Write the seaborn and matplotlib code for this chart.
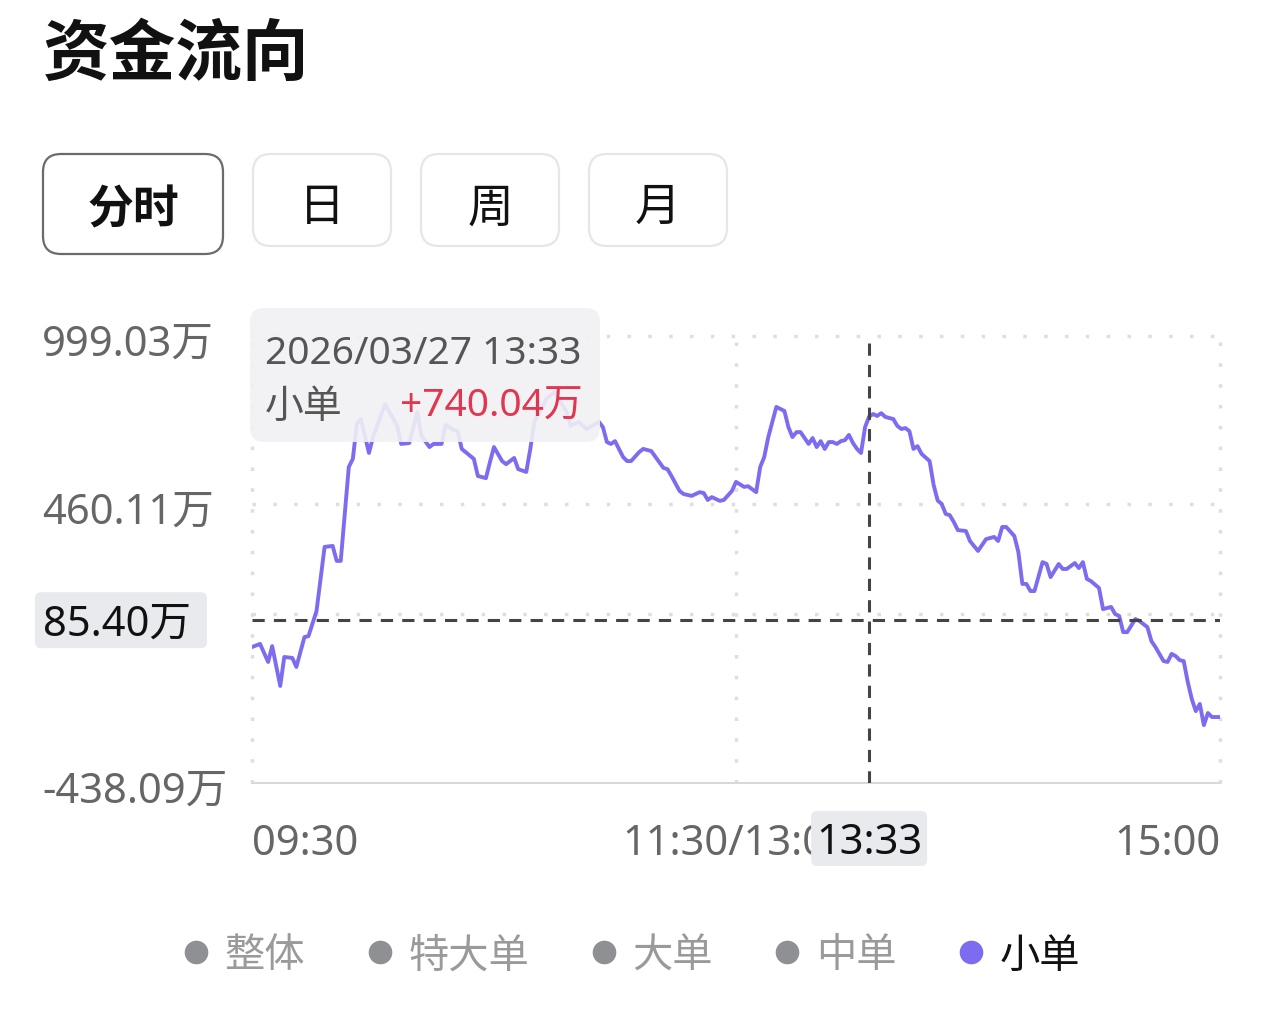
import numpy as np
import matplotlib.pyplot as plt
import pandas as pd
import seaborn as sns
from matplotlib.patches import FancyBboxPatch
from matplotlib.lines import Line2D
from matplotlib.transforms import ScaledTranslation

# 小单 intraday money flow, values in 万
times = [
    "09:30", "09:32", "09:34", "09:35", "09:37", "09:38", "09:40", "09:41", "09:43", "09:44",
    "09:46", "09:48", "09:50", "09:51", "09:52", "09:54", "09:55", "09:56", "09:57", "09:59",
    "10:00", "10:03", "10:06", "10:07", "10:09", "10:11", "10:12", "10:14", "10:15", "10:17",
    "10:18", "10:20", "10:21", "10:22", "10:25", "10:26", "10:28", "10:29", "10:30", "10:32",
    "10:33", "10:35", "10:36", "10:38", "10:39", "10:40", "10:43", "10:45", "10:48", "10:49",
    "10:51", "10:53", "10:56", "10:57", "10:58", "10:59", "11:00", "11:02", "11:03", "11:04",
    "11:06", "11:07", "11:09", "11:12", "11:13", "11:14", "11:16", "11:17", "11:19", "11:21",
    "11:22", "11:23", "11:24", "11:26", "11:27", "11:29", "11:30",
    "13:02", "13:03", "13:05", "13:06", "13:07", "13:08", "13:09", "13:10", "13:12", "13:13",
    "13:14", "13:15", "13:16", "13:17", "13:18", "13:19", "13:20", "13:21", "13:22", "13:23",
    "13:24", "13:25", "13:26", "13:27", "13:28", "13:29", "13:30", "13:31", "13:32", "13:33",
    "13:34", "13:35", "13:36", "13:37", "13:39", "13:40", "13:41", "13:42", "13:43", "13:44",
    "13:45", "13:46", "13:48", "13:49", "13:50", "13:51", "13:52", "13:53", "13:54", "13:55",
    "13:57", "13:58", "14:00", "14:02", "14:04", "14:05", "14:06", "14:07", "14:09", "14:10",
    "14:11", "14:12", "14:13", "14:14", "14:16", "14:17", "14:18", "14:20", "14:21", "14:22",
    "14:24", "14:25", "14:26", "14:27", "14:28", "14:30", "14:31", "14:33", "14:34", "14:35",
    "14:36", "14:37", "14:39", "14:40", "14:42", "14:43", "14:44", "14:46", "14:47", "14:48",
    "14:49", "14:50", "14:51", "14:52", "14:53", "14:54", "14:55", "14:56", "14:57", "14:58",
    "15:00",
]
values = [
    -1, 9, -49, 2, -126, -33, -36, -65, 31, 34,
    115, 321, 324, 276, 276, 578, 604, 716, 732, 623,
    674, 780, 710, 652, 655, 755, 678, 642, 652, 652,
    713, 697, 693, 636, 604, 549, 542, 594, 642, 597,
    587, 607, 571, 562, 636, 723, 797, 819, 755, 710,
    723, 700, 723, 706, 658, 652, 661, 610, 597, 597,
    626, 636, 629, 575, 571, 549, 501, 491, 485, 497,
    494, 472, 481, 469, 472, 501, 530,
    514, 516, 497, 578, 610, 674, 723, 771, 758, 706,
    674, 690, 690, 671, 652, 671, 642, 661, 636, 658,
    658, 652, 661, 664, 681, 655, 636, 623, 706, 740.04,
    748, 742, 751, 739, 732, 710, 700, 703, 693, 636,
    645, 620, 597, 520, 470, 459, 427, 423, 401, 375,
    372, 340, 308, 346, 353, 340, 385, 385, 356, 305,
    202, 202, 179, 179, 272, 266, 224, 266, 250, 250,
    269, 253, 272, 218, 211, 189, 121, 128, 105, 99,
    47, 47, 89, 83, 63, 18, -1, -46, -49, -23,
    -30, -43, -46, -113, -168, -207, -184, -252, -213, -226,
    -226,
]

y_ticks = [999.03, 460.11, 105.30, -438.09]
y_tick_labels = ["999.03万", "460.11万", "", "-438.09万"]  # third one sits under the cursor label
x_tick_times = ["09:30", "11:30", "15:00"]
x_tick_labels = ["09:30", "11:30/13:00", "15:00"]

period_tabs = ["分时", "日", "周", "月"]
series_names = ["整体", "特大单", "大单", "中单", "小单"]
active_series = "小单"

cursor_date = "2026/03/27"
cursor_time = "13:33"
cursor_value = 740.04
cursor_level = 85.40


def trade_minute(t):
    # minutes since the open, lunch break removed
    h, m = map(int, t.split(":"))
    total = h * 60 + m
    if total <= 11 * 60 + 30:
        return total - (9 * 60 + 30)
    return total - 13 * 60 + 120


df = pd.DataFrame({"time": times, "value": values})
df["minute"] = df["time"].apply(trade_minute)

sns.set_theme(style="white")
plt.rcParams["font.family"] = ["Noto Sans", "Noto Sans CJK SC", "DejaVu Sans"]
CJK = ["Noto Sans CJK SC", "DejaVu Sans"]

LINE = "#7b6cf0"
GRID = "#dedede"
DARK = "#444444"
GREY_TXT = "#666666"

W, H = 1263, 1020
fig = plt.figure(figsize=(W / 100, H / 100), dpi=100)
ax = fig.add_axes([252 / W, 1 - 784 / H, 968 / W, 447 / H])

# dotted grid
for v in y_ticks[:-1]:
    ax.axhline(v, color=GRID, lw=2.5, ls=(0, (1, 5)), zorder=0, clip_on=False)
for t in x_tick_times:
    ax.axvline(trade_minute(t), color=GRID, lw=2.5, ls=(0, (1, 5)), zorder=0, clip_on=False)

sns.lineplot(data=df, x="minute", y="value", color=LINE, lw=2.8, ax=ax, zorder=3)

# crosshair
cx = trade_minute(cursor_time)
ax.axvline(cx, color=DARK, lw=2.2, ls=(0, (4, 3)), zorder=4)
ax.axhline(cursor_level, color=DARK, lw=2.2, ls=(0, (4, 3)), zorder=4)

ax.set_xlim(0, 240)
ax.set_ylim(y_ticks[-1], y_ticks[0])
sns.despine(ax=ax, left=True, top=True, right=True)
ax.spines["bottom"].set_color("#d8d8d8")
ax.spines["bottom"].set_linewidth(1.5)
ax.set_xlabel("")
ax.set_ylabel("")

ax.set_yticks(y_ticks)
ax.set_yticklabels(y_tick_labels)
ax.set_xticks([trade_minute(t) for t in x_tick_times])
ax.set_xticklabels(x_tick_labels)
ax.tick_params(axis="y", length=0, labelsize=30, labelcolor=GREY_TXT, pad=151)
ax.tick_params(axis="x", length=0, labelsize=30, labelcolor=GREY_TXT, pad=28)
shift_down = ScaledTranslation(0, -3 / 100, fig.dpi_scale_trans)
for lab in ax.get_yticklabels():
    lab.set_ha("left")
    lab.set_transform(lab.get_transform() + shift_down)
xl = ax.get_xticklabels()
xl[0].set_ha("left")
xl[-1].set_ha("right")

# overlay in pixel coordinates for the app chrome
ov = fig.add_axes([0, 0, 1, 1], zorder=5)
ov.set_xlim(0, W)
ov.set_ylim(H, 0)
ov.axis("off")

ov.text(43, 55, "资金流向", fontsize=48, fontweight="bold", color="#111111",
        ha="left", va="center", family=CJK)

tab_boxes = [(43, 180, 100), (253, 138, 92), (421, 138, 92), (589, 138, 92)]
for i, (name, (x0, w, h)) in enumerate(zip(period_tabs, tab_boxes)):
    active = i == 0
    ov.add_patch(FancyBboxPatch((x0, 155), w, h, boxstyle="round,pad=0,rounding_size=18",
                                fc="white", ec="#6b6b6b" if active else "#e6e6e6", lw=1.6))
    ov.text(x0 + w / 2, 210 if active else 208, name, fontsize=33, color="#111111",
            fontweight="bold" if active else "normal", ha="center", va="center", family=CJK)

# tooltip
ov.add_patch(FancyBboxPatch((250, 309), 350, 134, boxstyle="round,pad=0,rounding_size=14",
                            fc="#f1f1f4", ec="none", alpha=0.9))
ov.text(265, 354, f"{cursor_date} {cursor_time}", fontsize=28, color="#555555", ha="left", va="center")
ov.text(265, 407, active_series, fontsize=28, color="#555555", ha="left", va="center", family=CJK)
ov.text(583, 407, f"+{cursor_value:.2f}万", fontsize=28, color="#e0364f", ha="right", va="center")

# axis cursor labels
px, py = ax.transData.transform((cx, cursor_level))
py = H - py
ov.add_patch(FancyBboxPatch((35, py - 28), 172, 56, boxstyle="round,pad=0,rounding_size=6",
                            fc="#e9eaee", ec="none"))
ov.text(43, py + 3, f"{cursor_level:.2f}万", fontsize=30, color="#111111", ha="left", va="center")
ov.add_patch(FancyBboxPatch((px - 58, 812), 116, 55, boxstyle="round,pad=0,rounding_size=6",
                            fc="#e9eaee", ec="none"))
ov.text(px, 843, cursor_time, fontsize=30, color="#111111", ha="center", va="center")

# series legend
handles = [Line2D([], [], ls="", marker="o", ms=16,
                  color=LINE if n == active_series else "#8e9094") for n in series_names]
leg = fig.legend(handles, series_names, loc="center", bbox_to_anchor=(632 / W, 1 - 956 / H),
                 ncol=5, frameon=False, handlelength=0.6, handletextpad=0.4,
                 columnspacing=1.56, prop={"family": CJK, "size": 29})
for txt, n in zip(leg.get_texts(), series_names):
    txt.set_color("#111111" if n == active_series else "#9a9a9a")

fig.savefig("out.png", dpi=100, facecolor="white")
